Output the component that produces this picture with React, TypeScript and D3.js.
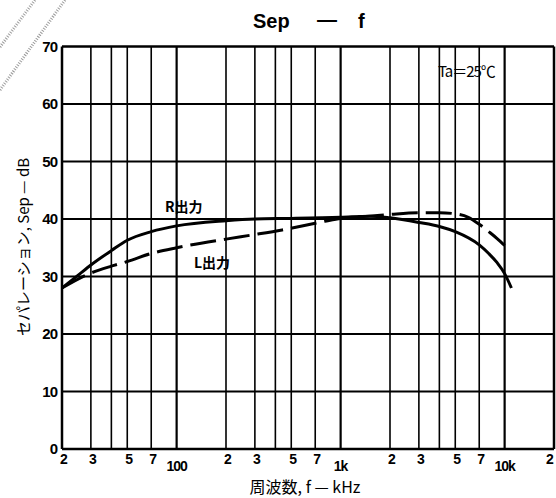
import React from 'react';
import * as d3 from 'd3';

// frequency in Hz, separation in dB
const rFreq = [20, 25, 30, 40, 50, 70, 100, 200, 300, 500, 1000, 1500, 2000, 3000, 4000, 5000, 7000, 8000, 9000, 10000, 11000];
const rSep = [28, 30.2, 32.0, 34.5, 36.3, 37.8, 38.8, 39.7, 40.0, 40.1, 40.3, 40.5, 40.2, 39.4, 38.7, 37.8, 35.5, 34.0, 32.4, 30.5, 28.0];

const lFreq = [20, 30, 40, 50, 70, 100, 200, 300, 440, 800, 1000, 1500, 2000, 3000, 4000, 5000, 6000, 7000, 8000, 9000, 10000];
const lSep = [28, 30.6, 31.8, 32.6, 34.0, 35.0, 36.5, 37.3, 38.1, 39.6, 40.1, 40.5, 40.8, 41.1, 41.1, 40.9, 40.3, 39.1, 37.8, 36.6, 35.4];

const yTicks = [0, 10, 20, 30, 40, 50, 60, 70];
const decades = [10, 100, 1000, 10000];
const gridMult = [2, 3, 4, 5, 7, 10];
const labelMult = [2, 3, 5, 7];
const decadeLabels = [
  { f: 100, label: '100' },
  { f: 1000, label: '1k' },
  { f: 10000, label: '10k' },
];

const W = 556;
const H = 498;
const left = 62, right = 554, top = 46.5, bottom = 449;

export default function App() {
  const x = d3.scaleLog().domain([20, 20000]).range([left, right]);
  const y = d3.scaleLinear().domain([0, 70]).range([bottom, top]);

  const gridF: number[] = [];
  decades.forEach(d => gridMult.forEach(m => {
    const f = d * m;
    if (f >= 20 && f <= 20000 && !gridF.includes(f)) gridF.push(f);
  }));
  const labelF: number[] = [];
  decades.forEach(d => labelMult.forEach(m => {
    const f = d * m;
    if (f >= 20 && f <= 20000) labelF.push(f);
  }));

  const line = d3.line<[number, number]>()
    .x(d => x(d[0]))
    .y(d => y(d[1]))
    .curve(d3.curveMonotoneX);

  const rPath = line(rFreq.map((f, i) => [f, rSep[i]]))!;
  const lPath = line(lFreq.map((f, i) => [f, lSep[i]]))!;

  const numFont = '"Liberation Sans", Arial, sans-serif';
  const jpFont = '"Noto Sans CJK JP", sans-serif';

  return (
    <svg width={W} height={H} style={{ position: 'absolute', left: 0, top: 0, background: '#fff' }}>
      {/* scan artefacts */}
      <line x1={0} y1={47} x2={35} y2={0} stroke="#9a9a9a" strokeWidth={3} strokeDasharray="1 1.5" />
      <line x1={0} y1={90} x2={65} y2={0} stroke="#9a9a9a" strokeWidth={3} strokeDasharray="1 1.5" />

      {/* horizontal grid */}
      {yTicks.map(t => (
        <line key={'h' + t} x1={left} x2={right} y1={y(t)} y2={y(t)} stroke="#000"
          strokeWidth={t === 0 || t === 70 ? 2.5 : 1.8} />
      ))}
      {/* vertical grid */}
      {gridF.map(f => (
        <line key={'v' + f} x1={x(f)} x2={x(f)} y1={top} y2={bottom} stroke="#000"
          strokeWidth={f === 20 || f === 20000 ? 2.5 : ([100, 1000, 10000].includes(f) ? 2.2 : 1.6)} />
      ))}

      {/* curves */}
      <path d={rPath} fill="none" stroke="#000" strokeWidth={3} />
      <path d={lPath} fill="none" stroke="#000" strokeWidth={3} strokeDasharray="26 8" />

      {/* y tick labels */}
      {yTicks.map(t => (
        <text key={'yl' + t} x={57} y={y(t) + 5} textAnchor="end" fontFamily={numFont}
          fontSize={15} fontWeight="bold" letterSpacing={-1}>{t}</text>
      ))}
      {/* x tick labels */}
      {labelF.map(f => (
        <text key={'xl' + f} x={Math.min(x(f) + 2, 550)} y={464} textAnchor="middle" fontFamily={numFont}
          fontSize={14} fontWeight="bold">{String(f).charAt(0)}</text>
      ))}
      {decadeLabels.map(d => (
        <text key={'dl' + d.f} x={x(d.f)} y={471} textAnchor="middle" fontFamily={numFont}
          fontSize={14} fontWeight="bold" letterSpacing={-1}>{d.label}</text>
      ))}

      {/* title */}
      <text x={253} y={28} fontFamily={numFont} fontSize={20} fontWeight="bold">Sep</text>
      <text x={317} y={26} fontFamily={numFont} fontSize={20} fontWeight="bold">—</text>
      <text x={358} y={28} fontFamily={numFont} fontSize={20} fontWeight="bold">f</text>

      <text x={438} y={77} fontFamily={jpFont} fontSize={15} letterSpacing={-1}>Ta＝25℃</text>

      {/* curve labels */}
      <text x={165} y={212} fontFamily={jpFont} fontSize={14} fontWeight="bold">R出力</text>
      <text x={194} y={268} fontFamily={jpFont} fontSize={14} fontWeight="bold">L出力</text>

      {/* axis titles */}
      <text transform={`translate(29,247) rotate(-90)`} textAnchor="middle" fontFamily={jpFont} fontSize={15}>
        セパレーション, Sep — dB
      </text>
      <text x={305} y={493} textAnchor="middle" fontFamily={jpFont} fontSize={16}>
        周波数, f — kHz
      </text>
    </svg>
  );
}
